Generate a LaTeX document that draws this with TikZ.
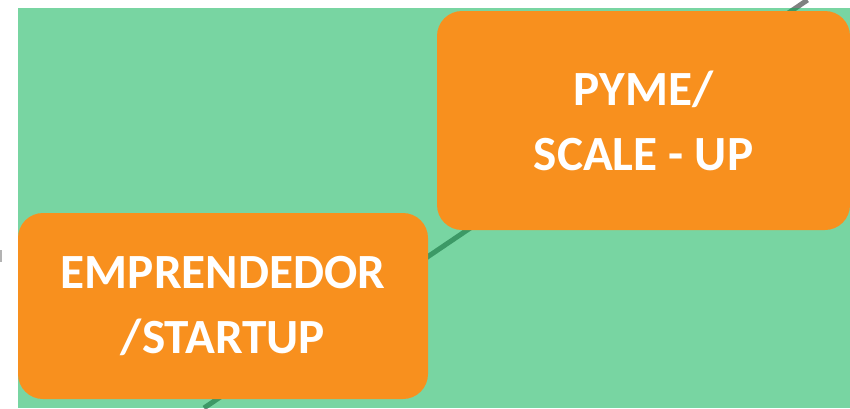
\documentclass[tikz,border=0pt]{standalone}
\usepackage{fontspec}
\setmainfont{Carlito}
\usetikzlibrary{positioning}
\definecolor{stgreen}{RGB}{0,176,80}
\definecolor{storange}{RGB}{248,144,30}
\definecolor{stgrey}{RGB}{128,128,128}
\tikzstyle{stage} = [rectangle, rounded corners=0.5cm, fill=storange, text=white, font=\bfseries\fontsize{28}{37}\selectfont, align=center, inner sep=0pt]
\tikzstyle{ladder} = [line width=0.1cm, color=stgrey]

\begin{document}
\begin{tikzpicture}
\useasboundingbox (0,0) rectangle (17,-8.16);
% grey line behind the green panel
\coordinate (lo) at (4.08,-8.16);
\coordinate (hi) at (16.15,0);
\coordinate (st) at (0.02,-5.0);
\coordinate (sb) at (0.02,-5.24);
\draw[ladder] (lo) -- (hi);
\draw[stgrey!60, line width=0.05cm] (st) -- (sb);
\fill[stgreen, opacity=0.53] (0.36,-0.16) rectangle (17,-8.16);

\node[stage, minimum width=8.26cm, minimum height=4.38cm] (pyme) at (12.87,-2.41) {PYME/\\SCALE - UP};
\node[stage, minimum width=8.2cm, minimum height=3.72cm] (emp) at (4.46,-6.12) {EMPRENDEDOR\\/STARTUP};
\end{tikzpicture}
\end{document}
